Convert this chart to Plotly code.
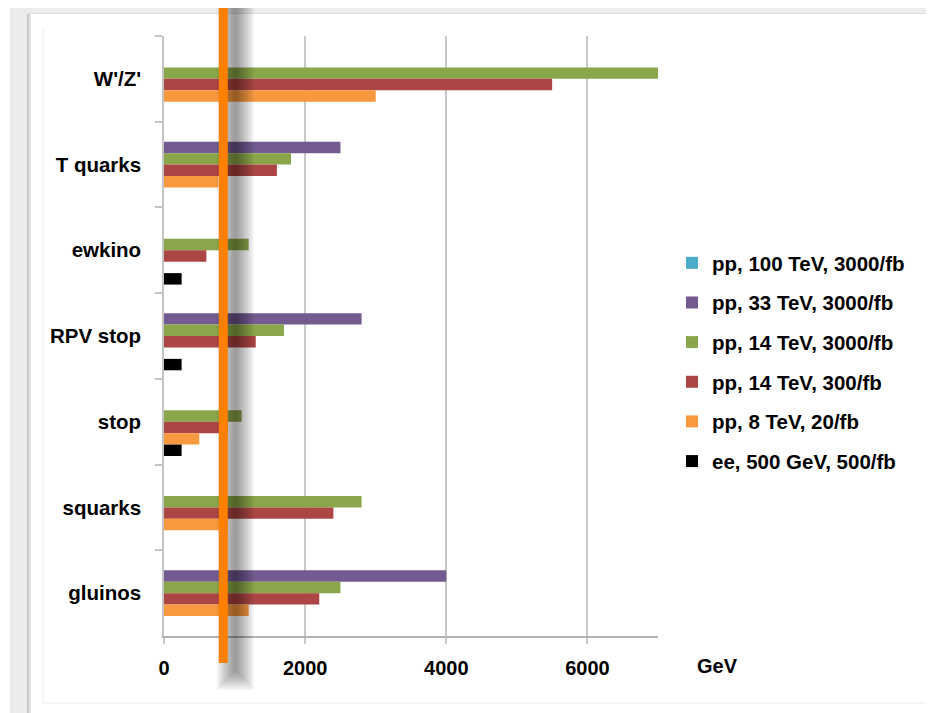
import plotly.graph_objects as go

# -----------------------------------------------------------------------------
# Data (GeV reach per model)
# -----------------------------------------------------------------------------
MODELS = ["W'/Z'", "T quarks", "ewkino", "RPV stop", "stop", "squarks", "gluinos"]

SERIES = [
    "pp, 100 TeV, 3000/fb",
    "pp, 33 TeV, 3000/fb",
    "pp, 14 TeV, 3000/fb",
    "pp, 14 TeV, 300/fb",
    "pp, 8 TeV, 20/fb",
    "ee, 500 GeV, 500/fb",
]
PP_100_3000 = [None, None, None, None, None, None, None]
PP_33_3000 = [None, 2500, None, 2800, None, None, 4000]
PP_14_3000 = [7000, 1800, 1200, 1700, 1100, 2800, 2500]
PP_14_300 = [5500, 1600, 600, 1300, 900, 2400, 2200]
PP_8_20 = [3000, 770, None, None, 500, 900, 1200]
EE_500 = [None, None, 250, 250, 250, None, None]

COLORS = ["#4aacc6", "#735a91", "#8aa64a", "#ab4644", "#f8993f", "#000000"]

X_TICKS = [0, 2000, 4000, 6000]
LIMIT_GEV = 840  # orange vertical line

# -----------------------------------------------------------------------------
# Layout helpers: screen pixel -> paper (page body adds an 8px margin)
# -----------------------------------------------------------------------------
OFF = 8
W, H = 934 - OFF, 713 - OFF
L, T = 164 - OFF, 36 - OFF
PW, PH = 494, 600
R, B = W - L - PW, H - T - PH


def px(x):
    return (x - OFF - L) / PW


def py(y):
    return (T + PH - (y - OFF)) / PH


FONT = dict(family="Liberation Sans, Arial, sans-serif", size=20, color="black", weight="bold")

fig = go.Figure()
for name, vals, color in zip(
    SERIES, [PP_100_3000, PP_33_3000, PP_14_3000, PP_14_300, PP_8_20, EE_500], COLORS
):
    fig.add_trace(
        go.Bar(
            name=name,
            y=MODELS,
            x=vals,
            orientation="h",
            marker=dict(color=color, line=dict(width=0)),
            legendgroup=name,
        )
    )

shapes = []
# slide-like frame
gray = "#ececec"
shapes.append(dict(type="rect", xref="paper", yref="paper", x0=px(10), x1=px(27), y0=py(713), y1=py(6),
                   fillcolor=gray, line_width=0, layer="below"))
shapes.append(dict(type="rect", xref="paper", yref="paper", x0=px(10), x1=px(934), y0=py(13), y1=py(6),
                   fillcolor=gray, line_width=0, layer="below"))
shapes.append(dict(type="rect", xref="paper", yref="paper", x0=px(27), x1=px(29), y0=py(713), y1=py(13),
                   fillcolor="#c9c9c9", line_width=0, layer="below"))
shapes.append(dict(type="rect", xref="paper", yref="paper", x0=px(29), x1=px(31), y0=py(713), y1=py(13),
                   fillcolor="#e2e2e2", line_width=0, layer="below"))
shapes.append(dict(type="rect", xref="paper", yref="paper", x0=px(27), x1=px(934), y0=py(14), y1=py(13),
                   fillcolor="#dedede", line_width=0, layer="below"))
shapes.append(dict(type="line", xref="paper", yref="paper", x0=px(43), x1=px(43), y0=py(703), y1=py(28),
                   line=dict(color="#ececec", width=1), layer="below"))
shapes.append(dict(type="line", xref="paper", yref="paper", x0=px(43), x1=px(934), y0=py(703), y1=py(703),
                   line=dict(color="#ececec", width=1), layer="below"))

# blurred drop shadow of the limit line
for k in range(14):
    hw = 2 + 1.3 * k
    shapes.append(dict(type="rect", xref="x", xsizemode="pixel", xanchor=LIMIT_GEV,
                       x0=12 - hw, x1=12 + hw, yref="paper", y0=py(672 + 1.4 * k), y1=py(0),
                       fillcolor="rgba(0,0,0,0.032)", line_width=0, layer="above"))
# limit line
shapes.append(dict(type="rect", xref="x", xsizemode="pixel", xanchor=LIMIT_GEV,
                   x0=-4.5, x1=4.5, yref="paper", y0=py(663), y1=py(0),
                   fillcolor="#ff8000", line_width=0, layer="above"))

fig.update_layout(
    width=W,
    height=H,
    margin=dict(l=L, r=R, t=T, b=B),
    paper_bgcolor="white",
    plot_bgcolor="white",
    barmode="group",
    bargap=0.2,
    bargroupgap=0,
    font=FONT,
    shapes=shapes,
    showlegend=True,
    legend=dict(
        x=px(672), xanchor="left", y=py(243), yanchor="top",
        font=dict(FONT, size=20.5), tracegroupgap=10, bgcolor="rgba(0,0,0,0)",
    ),
    annotations=[
        dict(text="GeV", xref="paper", yref="paper", x=px(717), y=py(666),
             showarrow=False, font=FONT, xanchor="center", yanchor="middle")
    ],
)

fig.update_xaxes(
    range=[0, 7000],
    tickvals=X_TICKS,
    showgrid=True,
    gridcolor="#c8c8c8",
    gridwidth=1.5,
    zeroline=False,
    showline=True,
    linecolor="#b3b3b3",
    linewidth=2,
    ticks="outside",
    ticklen=6,
    tickwidth=1.5,
    tickcolor="#c8c8c8",
    tickfont=FONT,
    ticklabelstandoff=7,
)
fig.update_yaxes(
    categoryorder="array",
    categoryarray=MODELS,
    autorange="reversed",
    showgrid=False,
    showline=True,
    linecolor="#c4c4c4",
    linewidth=1.5,
    ticks="outside",
    tickson="boundaries",
    ticklen=7,
    tickwidth=1.5,
    tickcolor="#c4c4c4",
    tickfont=dict(FONT, size=20.5),
    ticklabelstandoff=17,
)

fig.write_html("out.html")
